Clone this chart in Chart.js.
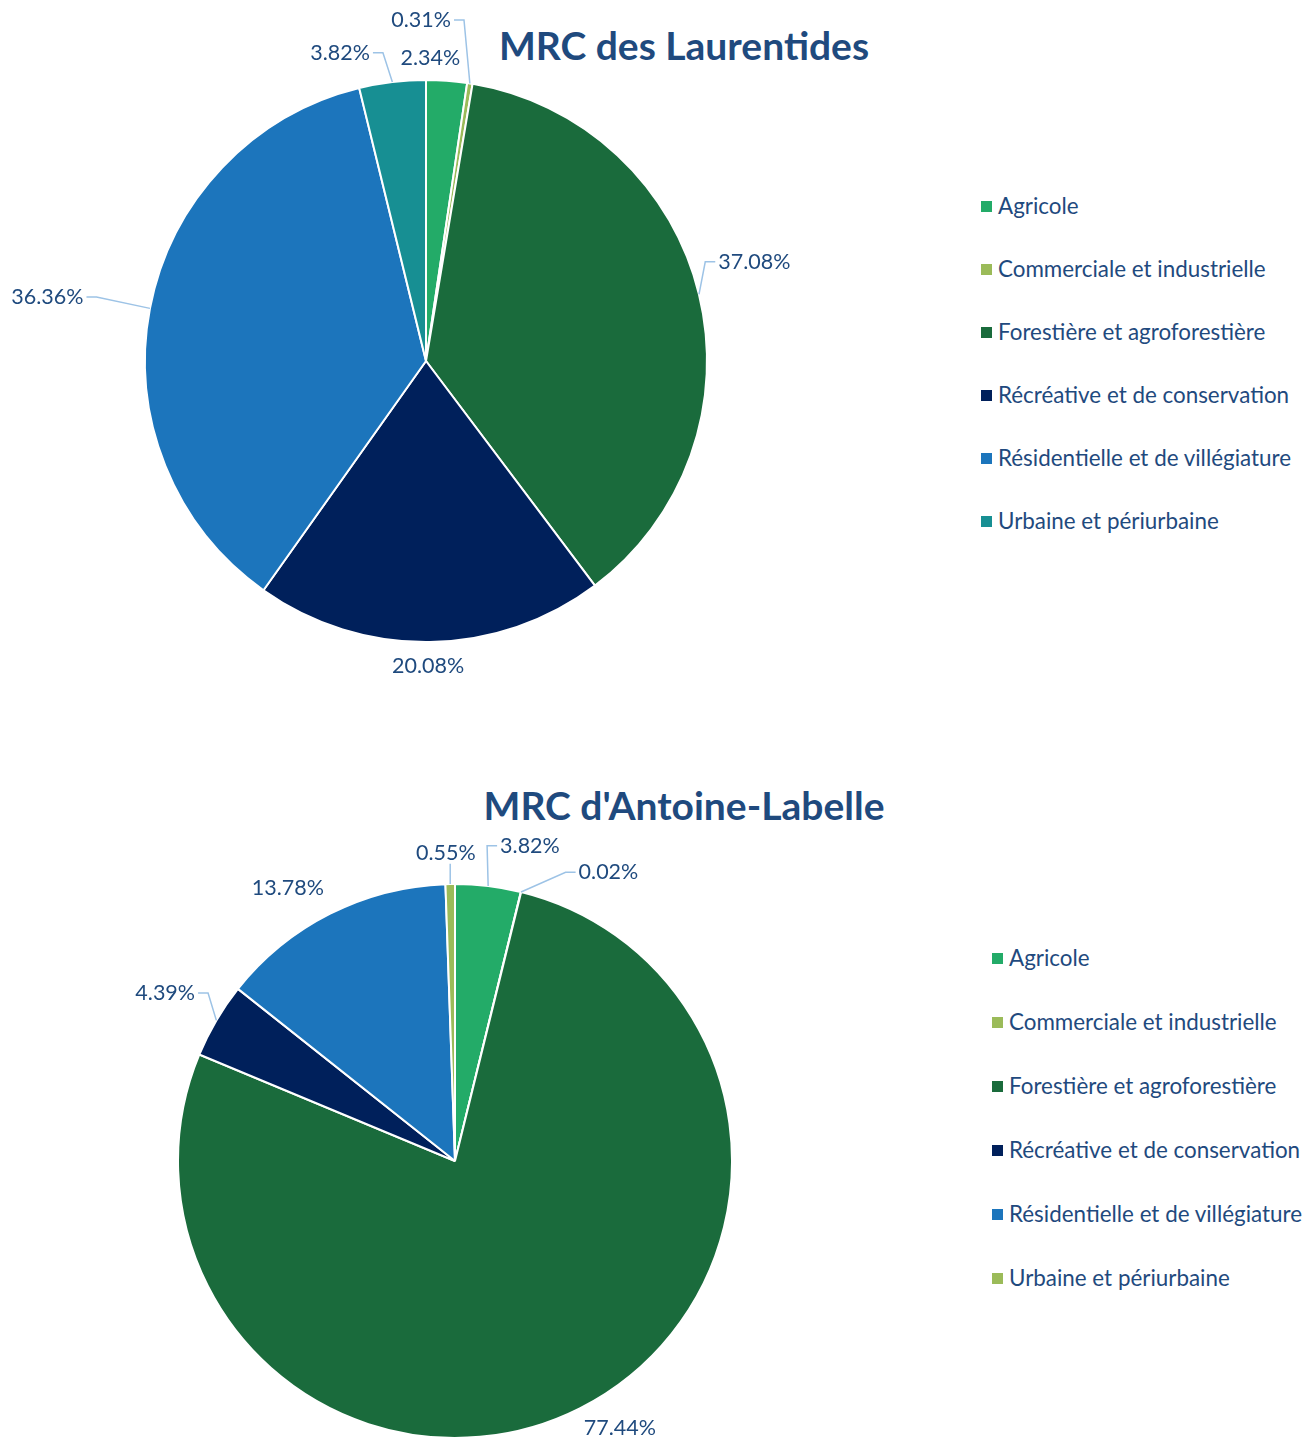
<!DOCTYPE html>
<html lang="fr">
<head>
<meta charset="utf-8">
<title>MRC – affectations du territoire</title>
<script src="https://cdn.jsdelivr.net/npm/chart.js@4.4.1/dist/chart.umd.min.js"></script>
<style>
  html, body { margin:0; padding:0; background:#fff; }
  body { width:1304px; height:1439px; position:relative; overflow:hidden; font-family:Lato, "Open Sans", sans-serif; }
  canvas { position:absolute; left:0; }
  #c1 { top:0; }
  #c2 { top:720px; }
  .title { position:absolute; width:600px; text-align:center; font-weight:bold; font-size:39px; line-height:46px; color:#1F4A7E; white-space:nowrap; }
  .legend { position:absolute; color:#1F4A7E; font-size:22.4px; }
  .legend div { position:relative; white-space:nowrap; }
  .legend span { display:inline-block; width:11px; height:11px; margin-right:6px; vertical-align:middle; position:relative; top:-2px; }
</style>
</head>
<body>
<div class="title" id="t1" style="left:384px;top:22px">MRC des Laurentides</div>
<div class="title" id="t2" style="left:384px;top:782px">MRC d'Antoine-Labelle</div>
<div class="legend" id="leg1" style="left:981px;top:192px"></div>
<div class="legend" id="leg2" style="left:992px;top:944px"></div>
<canvas id="c1" width="1304" height="720"></canvas>
<canvas id="c2" width="1304" height="719"></canvas>
<script>
// données
const categories = ['Agricole', 'Commerciale et industrielle', 'Forestière et agroforestière',
  'Récréative et de conservation', 'Résidentielle et de villégiature', 'Urbaine et périurbaine'];
const laurentides = [2.34, 0.31, 37.08, 20.08, 36.36, 3.82];
const antoineLabelle = [3.82, 0.02, 77.44, 4.39, 13.78, 0.55];

// couleurs
const colorsLaurentides = ['#23AB68', '#9BBB59', '#1A6B3C', '#00205B', '#1C75BC', '#178F93'];
const colorsAntoine = ['#23AB68', '#9BBB59', '#1A6B3C', '#00205B', '#1C75BC', '#9BBB59'];

// placement des étiquettes : décalage angulaire (deg), distance hors du disque (px), ligne de repère
const placeLaurentides = [
  {da:-3.4, out:22, lead:false}, {da:-9.8, out:60, lead:true}, {da:-3.1, out:62, lead:true},
  {da:0.4, out:24, lead:false}, {da:-1.2, out:103, lead:true}, {da:-8.7, out:39, lead:true}
];
const placeAntoine = [
  {da:6.5, out:47, lead:true}, {da:14.2, out:50, lead:true}, {da:-4.9, out:37, lead:false},
  {da:-0.4, out:58, lead:true}, {da:-4.7, out:43, lead:false}, {da:-0.7, out:31, lead:true}
];

const TEXT = '#1F4A7E';
const LEADER = '#9DC3E6';
const LABEL_FONT = '21.5px Lato, "Open Sans", sans-serif';

const labelsPlugin = {
  id: 'pieLabels',
  afterDatasetsDraw(chart, args, opts) {
    const ctx = chart.ctx;
    const meta = chart.getDatasetMeta(0);
    const values = chart.data.datasets[0].data;
    ctx.save();
    ctx.font = LABEL_FONT;
    ctx.textAlign = 'center';
    ctx.textBaseline = 'middle';
    meta.data.forEach((arc, i) => {
      const p = opts.place[i];
      const {x, y, startAngle, endAngle, outerRadius} = arc.getProps(['x','y','startAngle','endAngle','outerRadius'], true);
      const mid = (startAngle + endAngle) / 2;
      const a = mid + p.da * Math.PI / 180;
      const d = outerRadius + p.out;
      const lx = x + Math.cos(a) * d, ly = y + Math.sin(a) * d;
      const txt = values[i].toFixed(2) + '%';
      const w = ctx.measureText(txt).width, h = 21;
      if (p.lead) {
        const sx = x + Math.cos(mid) * outerRadius, sy = y + Math.sin(mid) * outerRadius;
        const left = lx - w/2 - 3, right = lx + w/2 + 3, top = ly - h/2, bottom = ly + h/2;
        ctx.strokeStyle = LEADER; ctx.lineWidth = 1.5;
        ctx.beginPath();
        ctx.moveTo(sx, sy);
        if (sx < left) { ctx.lineTo(left - 10, ly); ctx.lineTo(left, ly); }
        else if (sx > right) { ctx.lineTo(right + 10, ly); ctx.lineTo(right, ly); }
        else { ctx.lineTo(sx, sy < top ? top : bottom); }
        ctx.stroke();
      }
      ctx.fillStyle = TEXT;
      ctx.fillText(txt, lx, ly);
    });
    ctx.restore();
  }
};

function makePie(id, values, colors, place, padding) {
  return new Chart(document.getElementById(id), {
    type: 'pie',
    data: { labels: categories, datasets: [{ data: values, backgroundColor: colors,
      borderColor: '#fff', borderWidth: 2, hoverOffset: 0 }] },
    options: {
      responsive: false, animation: false, events: [],
      layout: { padding },
      plugins: { legend: { display: false }, tooltip: { enabled: false }, pieLabels: { place } }
    },
    plugins: [labelsPlugin]
  });
}

function renderLegend(elId, colors, step) {
  const el = document.getElementById(elId);
  categories.forEach((c, i) => {
    const row = document.createElement('div');
    row.style.height = step + 'px';
    row.innerHTML = `<span style="background:${colors[i]}"></span>${c}`;
    el.appendChild(row);
  });
}

makePie('c1', laurentides, colorsLaurentides, placeLaurentides, {left:144, right:596, top:79, bottom:77});
makePie('c2', antoineLabelle, colorsAntoine, placeAntoine, {left:177, right:571, top:163, bottom:0});
renderLegend('leg1', colorsLaurentides, 63);
renderLegend('leg2', colorsAntoine, 64);
</script>
</body>
</html>
